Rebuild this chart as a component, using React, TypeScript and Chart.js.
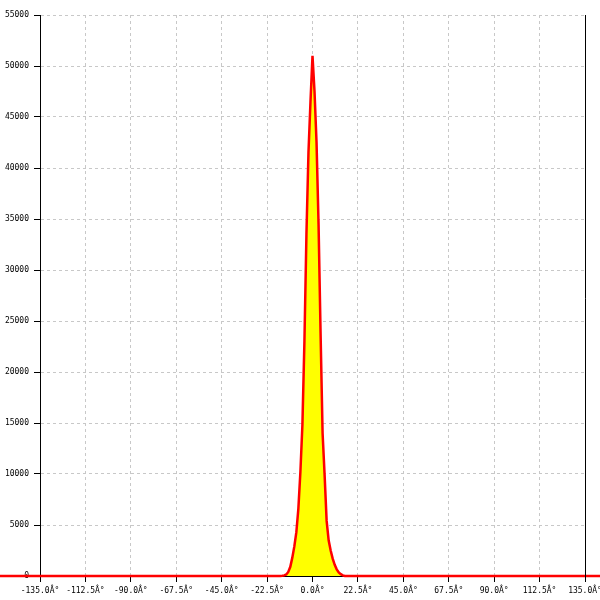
import React, { useEffect, useRef } from "react";
import { Chart, registerables } from "chart.js";

Chart.register(...registerables);

const angles = [-180, -16, -15, -14, -13, -12, -11, -10, -9, -8, -7, -6, -5, -4, -3, -2, -1, 0, 1, 2, 3, 4, 5, 6, 7, 8, 9, 10, 11, 12, 13, 14, 15, 16, 180];
const counts = [0, 0, 20, 60, 150, 400, 900, 1800, 2900, 4300, 6600, 10200, 14800, 23000, 33500, 41500, 46500, 51000, 47500, 42500, 34500, 23800, 14000, 9900, 5400, 3500, 2500, 1700, 1100, 650, 350, 180, 60, 0, 0];

const xMin = -135;
const xMax = 135;
const xStep = 22.5;
const yMax = 55000;
const yStep = 5000;

const FONT = "'DejaVu Sans Mono', monospace";

export default function App() {
  const ref = useRef<HTMLCanvasElement | null>(null);

  useEffect(() => {
    if (!ref.current) return;
    const rightBorder = {
      id: "rightBorder",
      afterDatasetsDraw(chart: any) {
        const { ctx, chartArea } = chart;
        ctx.save();
        ctx.strokeStyle = "#000";
        ctx.lineWidth = 1;
        ctx.beginPath();
        ctx.moveTo(Math.round(chartArea.right) + 0.5, chartArea.top);
        ctx.lineTo(Math.round(chartArea.right) + 0.5, chartArea.bottom + 6);
        ctx.stroke();
        ctx.restore();
      },
    };
    const chart = new Chart(ref.current, {
      type: "line",
      data: {
        datasets: [
          {
            data: angles.map((a, i) => ({ x: a, y: counts[i] })),
            borderColor: "#ff0000",
            backgroundColor: "#ffff00",
            borderWidth: 2.5,
            fill: "origin",
            pointRadius: 0,
            tension: 0,
            clip: false as any,
          },
        ],
      },
      options: {
        animation: false,
        responsive: false,
        maintainAspectRatio: false,
        layout: { padding: { top: 15, right: 15, left: 0, bottom: 0 } },
        plugins: { legend: { display: false }, tooltip: { enabled: false } },
        scales: {
          x: {
            type: "linear",
            min: xMin,
            max: xMax,
            afterBuildTicks: (scale: any) => {
              const t = [];
              for (let v = xMin; v <= xMax + 1e-9; v += xStep) t.push({ value: v });
              scale.ticks = t;
            },
            afterFit: (scale: any) => {
              scale.height = 24;
              scale.paddingLeft = 0;
              scale.paddingRight = 0;
            },
            grid: {
              color: "#c8c8c8",
              lineWidth: 1,
              tickLength: 6,
              tickColor: "#000",
              tickWidth: 1,
            },
            border: { display: true, color: "#000", width: 1, dash: [3, 3] },
            ticks: {
              color: "#000",
              font: { family: FONT, size: 8 },
              padding: 4,
              maxRotation: 0,
              autoSkip: false,
              callback: (v: any) => Number(v).toFixed(1) + "Â°",
            },
          },
          y: {
            type: "linear",
            min: 0,
            max: yMax,
            afterFit: (scale: any) => {
              scale.width = 40;
              scale.paddingTop = 0;
              scale.paddingBottom = 0;
            },
            grid: {
              color: "#c8c8c8",
              lineWidth: 1,
              tickLength: 6,
              tickColor: "#000",
              tickWidth: 1,
            },
            border: { display: true, color: "#000", width: 1, dash: [3, 3] },
            ticks: {
              stepSize: yStep,
              color: "#000",
              font: { family: FONT, size: 8 },
              padding: 5,
              autoSkip: false,
              callback: (v: any) => String(v),
            },
          },
        },
      },
      plugins: [rightBorder],
    });
    return () => chart.destroy();
  }, []);

  return (
    <div style={{ position: "fixed", left: 0, top: 0, width: 600, height: 600, background: "#fff" }}>
      <canvas ref={ref} width={600} height={600} style={{ width: 600, height: 600 }} />
    </div>
  );
}
